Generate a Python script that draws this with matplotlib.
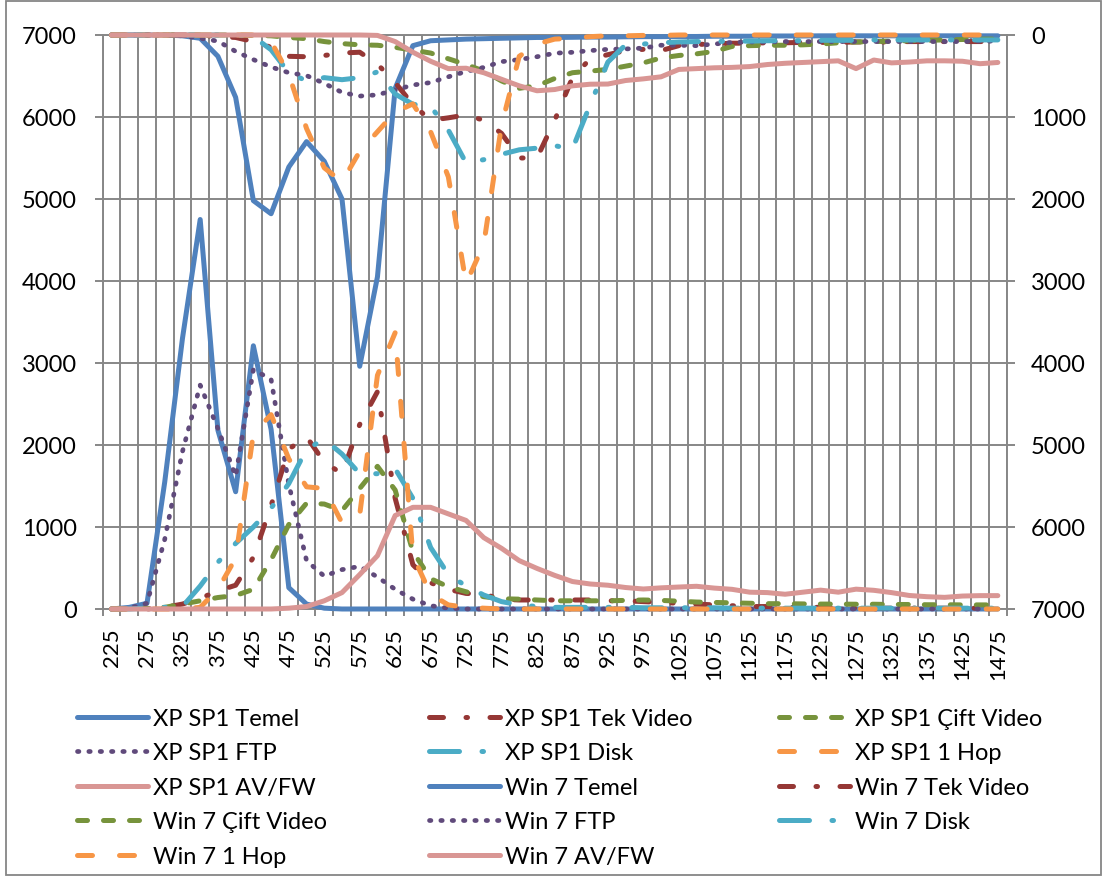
import matplotlib
matplotlib.use("Agg")
from matplotlib import pyplot as plt
from matplotlib.patches import Rectangle

plt.rcParams['font.family'] = ['Lato', 'DejaVu Sans']

categories = list(range(225, 1476, 25))

# XP SP1 series, left axis
xp_temel = [0, 20, 70, 1550, 3300, 4750, 2180, 1430, 3210, 2190,
            260, 60, 10, 0, 0, 0, 0, 0, 0, 0,
            0, 0, 0, 0, 0, 0, 0, 0, 0, 0,
            0, 0, 0, 0, 0, 0, 0, 0, 0, 0,
            0, 0, 0, 0, 0, 0, 0, 0, 0, 0,
            0]
xp_tek = [0, 0, 0, 20, 60, 130, 220, 290, 630, 1260,
          1950, 2100, 1790, 1650, 2250, 2650, 1350, 540, 320, 240,
          190, 180, 120, 110, 110, 110, 110, 110, 100, 100,
          90, 80, 70, 60, 50, 40, 30, 30, 20, 20,
          20, 10, 10, 10, 10, 10, 10, 10, 10, 10,
          10]
xp_cift = [0, 0, 10, 20, 60, 100, 140, 165, 240, 600,
           1030, 1290, 1280, 1200, 1470, 1740, 1450, 700, 370, 270,
           210, 150, 125, 120, 110, 100, 100, 100, 100, 105,
           110, 105, 95, 85, 80, 75, 70, 65, 65, 62,
           60, 60, 58, 58, 55, 55, 52, 52, 50, 50,
           50]
xp_ftp = [0, 10, 70, 850, 1920, 2730, 2200, 1620, 2920, 2800,
          1520, 590, 400, 480, 520, 390, 240, 120, 40, 10,
          0, 0, 0, 0, 0, 0, 0, 0, 0, 0,
          0, 0, 0, 0, 0, 0, 0, 0, 0, 0,
          0, 0, 0, 0, 0, 0, 0, 0, 0, 0,
          0]
xp_disk = [0, 0, 10, 20, 30, 280, 570, 800, 1000, 1230,
           1530, 1950, 2070, 1890, 1650, 1650, 1710, 1350, 750, 420,
           280, 170, 90, 50, 30, 20, 20, 20, 20, 20,
           15, 15, 15, 15, 15, 10, 10, 10, 10, 10,
           10, 10, 10, 10, 10, 10, 10, 10, 10, 10,
           10]
xp_hop = [0, 0, 0, 0, 0, 20, 240, 620, 2140, 2370,
          1830, 1490, 1470, 1050, 1150, 2850, 3370, 650, 180, 50,
          20, 10, 0, 0, 0, 0, 0, 0, 0, 0,
          0, 0, 0, 0, 0, 0, 0, 0, 0, 0,
          0, 0, 0, 0, 0, 0, 0, 0, 0, 0,
          0]
xp_avfw = [0, 0, 0, 0, 0, 0, 0, 0, 0, 0,
           10, 30, 100, 200, 420, 650, 1140, 1240, 1240, 1160,
           1080, 870, 740, 590, 495, 410, 335, 305, 290, 262,
           244, 258, 268, 277, 255, 240, 205, 200, 180, 205,
           230, 205, 242, 228, 200, 165, 150, 142, 158, 163,
           163]

# Win 7 series, right axis (reversed)
w7_temel = [0, 0, 0, 0, 10, 40, 260, 760, 2020, 2180,
            1610, 1300, 1540, 2000, 4040, 2950, 650, 130, 70, 60,
            50, 45, 40, 35, 30, 30, 28, 25, 25, 22,
            20, 20, 18, 18, 15, 15, 15, 12, 12, 12,
            10, 10, 10, 10, 10, 10, 10, 10, 10, 10,
            10]
w7_tek = [0, 0, 0, 0, 0, 0, 20, 30, 80, 150,
          260, 265, 250, 220, 210, 355, 580, 850, 1040, 1010,
          975, 1040, 1200, 1500, 1500, 1040, 520, 290, 240, 190,
          175, 190, 130, 115, 110, 100, 100, 95, 95, 90,
          90, 90, 85, 85, 85, 80, 80, 80, 80, 80,
          80]
w7_cift = [0, 0, 0, 0, 0, 0, 0, 0, 5, 10,
           30, 45, 80, 105, 120, 125, 150, 185, 220, 290,
           360, 440, 560, 650, 620, 530, 460, 440, 420, 380,
           340, 280, 250, 230, 200, 140, 130, 125, 125, 120,
           110, 95, 85, 80, 75, 70, 65, 60, 55, 50,
           50]
w7_ftp = [0, 0, 0, 0, 10, 40, 75, 200, 300, 390,
          460, 495, 590, 700, 745, 730, 670, 610, 580, 510,
          445, 395, 325, 300, 265, 222, 211, 190, 175, 170,
          160, 125, 125, 130, 110, 90, 85, 85, 80, 80,
          80, 80, 80, 80, 80, 80, 80, 80, 80, 75,
          75]
w7_disk = [0, 0, 0, 0, 0, 0, 0, 0, 20, 180,
           460, 560, 520, 545, 520, 450, 720, 845, 870, 1160,
           1560, 1520, 1455, 1400, 1380, 1350, 1390, 850, 330, 120,
           110, 95, 85, 80, 80, 75, 75, 70, 70, 70,
           65, 65, 65, 60, 60, 60, 60, 60, 60, 60,
           60]
w7_hop = [0, 0, 0, 0, 0, 0, 0, 0, 0, 80,
          480, 1140, 1620, 1790, 1420, 1180, 940, 840, 1180, 1730,
          3030, 2550, 1100, 260, 110, 50, 40, 20, 10, 10,
          5, 5, 0, 0, 0, 0, 0, 0, 0, 0,
          0, 0, 0, 0, 0, 0, 0, 0, 0, 0,
          0]
w7_avfw = [0, 0, 0, 0, 0, 0, 0, 0, 0, 0,
           0, 0, 0, 0, 0, 5, 80, 210, 320, 410,
           405, 460, 540, 620, 680, 665, 620, 600, 598, 555,
           535, 510, 420, 410, 400, 395, 385, 360, 345, 335,
           325, 315, 410, 305, 340, 330, 315, 315, 320, 350,
           335]

xp_series = [xp_temel, xp_tek, xp_cift, xp_ftp, xp_disk, xp_hop, xp_avfw]
w7_series = [w7_temel, w7_tek, w7_cift, w7_ftp, w7_disk, w7_hop, w7_avfw]
names = ["Temel", "Tek Video", "Çift Video", "FTP", "Disk", "1 Hop", "AV/FW"]

# (color, linestyle, width) per test type
styles = [
    ('#4F81BD', '-', 3.6),
    ('#953735', (0, (2.8, 4.5, 0.3, 4.5)), 3.6),
    ('#77933C', (0, (2.0, 3.2)), 3.6),
    ('#604A7B', (0, (0.3, 2.1)), 3.4),
    ('#4BACC6', (0, (6.0, 4.5, 0.3, 4.5)), 3.6),
    ('#F79646', (0, (3.0, 5.4)), 3.6),
    ('#D99694', '-', 3.6),
]

grid_color = '#878787'
label_size = 17

fig = plt.figure(figsize=(11.03, 8.78), dpi=100)
ax = fig.add_axes([102.7 / 1103, 1 - 610 / 878, 904 / 1103, 574 / 878])
ax2 = ax.twinx()

x = list(range(len(categories)))
handles = []
for values, name, (color, ls, lw) in zip(xp_series, names, styles):
    line, = ax.plot(x, values, color=color, linestyle=ls, lw=lw, clip_on=False,
                    dash_capstyle='round', solid_capstyle='round',
                    solid_joinstyle='round', dash_joinstyle='round',
                    label="XP SP1 " + name)
    handles.append(line)
for values, name, (color, ls, lw) in zip(w7_series, names, styles):
    line, = ax2.plot(x, values, color=color, linestyle=ls, lw=lw, clip_on=False,
                     dash_capstyle='round', solid_capstyle='round',
                     solid_joinstyle='round', dash_joinstyle='round',
                     label="Win 7 " + name)
    handles.append(line)

ax.set_xlim(-0.5, len(categories) - 0.5)
ax.set_ylim(0, 7000)
ax2.set_ylim(7000, 0)
ax.set_yticks(range(0, 7001, 1000))
ax2.set_yticks(range(0, 7001, 1000))

ax.set_xticks(x[::2])
ax.set_xticklabels([str(c) for c in categories[::2]], rotation=90)
ax.set_xticks([i - 0.5 for i in range(len(categories) + 1)], minor=True)

ax.set_axisbelow(True)
ax.grid(which='minor', axis='x', color=grid_color, lw=1.4)
ax.grid(which='major', axis='y', color=grid_color, lw=1.4)
ax.grid(which='major', axis='x', visible=False)

ax.tick_params(axis='x', which='major', length=0, pad=13, labelsize=16)
ax.tick_params(axis='x', which='minor', length=5, width=1.4, color=grid_color)
ax.tick_params(axis='y', length=5.5, width=1.4, color=grid_color, pad=13,
               labelsize=label_size)
ax2.tick_params(axis='y', length=5.5, width=1.4, color=grid_color, pad=12,
                labelsize=label_size)

for s in ax.spines.values():
    s.set_color(grid_color)
    s.set_linewidth(1.4)
    s.set_zorder(0.5)
for s in ax2.spines.values():
    s.set_visible(False)

# legend: three columns filled row by row
col_x = [77 / 1103, 429 / 1103, 779 / 1103]
for c in range(3):
    hs = handles[c::3]
    fig.legend(hs, [h.get_label() for h in hs], loc='upper left',
               bbox_to_anchor=(col_x[c], 1 - 709 / 878), frameon=False,
               fontsize=label_size, handlelength=3.0, handletextpad=0.22,
               labelspacing=0.57, borderpad=0, borderaxespad=0)

fig.add_artist(Rectangle((6 / 1103, 2 / 878), 1095 / 1103, 874 / 878,
                         transform=fig.transFigure, fill=False,
                         edgecolor='#868686', lw=1.3))

fig.savefig("out.png", dpi=100)
